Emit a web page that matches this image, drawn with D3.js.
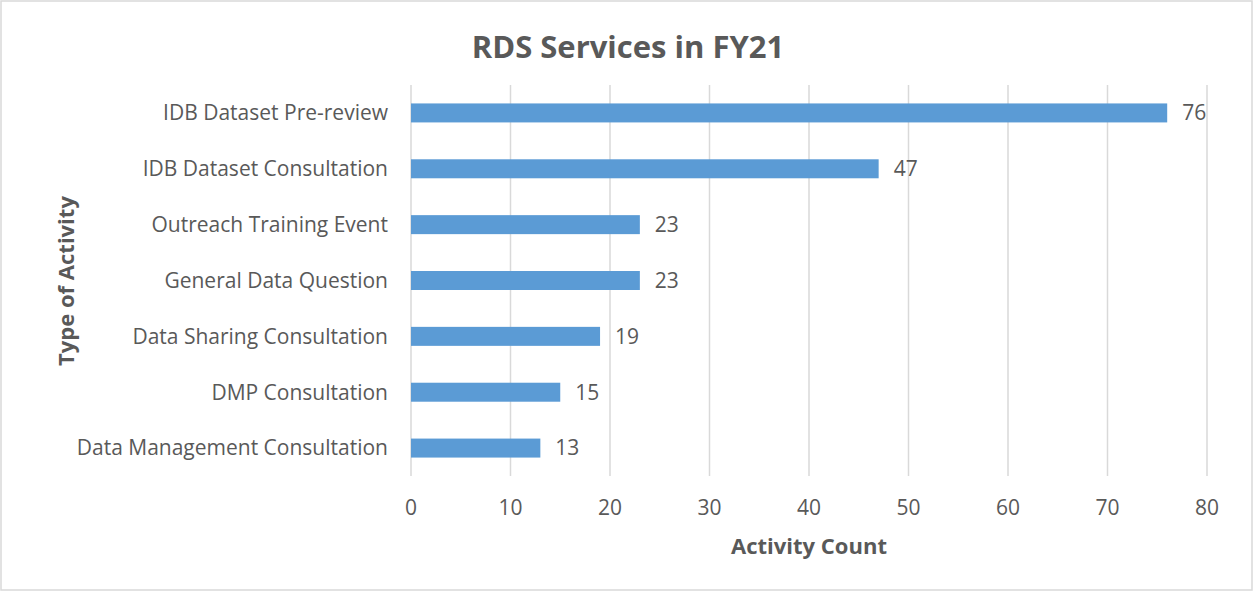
<!DOCTYPE html>
<meta charset="utf-8">
<style>
  body { margin: 0; background: #fff; }
  text { font-family: "Open Sans", Lato, sans-serif; fill: #595959; }
  .grid line { stroke: #d9d9d9; stroke-width: 1.5px; }
</style>
<svg width="1254" height="592"></svg>
<script src="https://d3js.org/d3.v7.min.js"></script>
<script>
  var categories = ["IDB Dataset Pre-review", "IDB Dataset Consultation", "Outreach Training Event",
    "General Data Question", "Data Sharing Consultation", "DMP Consultation", "Data Management Consultation"];
  var counts = [76, 47, 23, 23, 19, 15, 13];
  var xTicks = [0, 10, 20, 30, 40, 50, 60, 70, 80];

  var svg = d3.select("svg");
  var plotLeft = 411, plotRight = 1207, plotTop = 85, plotBottom = 476;

  svg.append("rect")
    .attr("x", 1).attr("y", 1).attr("width", 1251).attr("height", 589)
    .attr("fill", "#fff").attr("stroke", "#d9d9d9").attr("stroke-width", 1.5);

  var x = d3.scaleLinear().domain([0, 80]).range([plotLeft, plotRight]);
  var y = d3.scaleBand().domain(categories).range([plotTop, plotBottom]).paddingInner(0.66).paddingOuter(0.33);

  // vertical gridlines
  svg.append("g").attr("class", "grid")
    .selectAll("line")
    .data(xTicks)
    .enter().append("line")
    .attr("x1", function(d) { return x(d); })
    .attr("x2", function(d) { return x(d); })
    .attr("y1", plotTop)
    .attr("y2", plotBottom);

  svg.append("g")
    .selectAll("rect")
    .data(counts)
    .enter().append("rect")
    .attr("x", x(0))
    .attr("y", function(d, i) { return y(categories[i]); })
    .attr("width", function(d) { return x(d) - x(0); })
    .attr("height", y.bandwidth())
    .attr("fill", "#5b9bd5");

  // value labels
  svg.append("g")
    .selectAll("text")
    .data(counts)
    .enter().append("text")
    .attr("x", function(d) { return x(d) + 15; })
    .attr("y", function(d, i) { return y(categories[i]) + y.bandwidth() / 2; })
    .attr("dy", "0.35em")
    .attr("font-size", 21)
    .text(function(d) { return d; });

  // category labels
  svg.append("g")
    .selectAll("text")
    .data(categories)
    .enter().append("text")
    .attr("x", plotLeft - 23)
    .attr("y", function(d) { return y(d) + y.bandwidth() / 2; })
    .attr("dy", "0.35em")
    .attr("text-anchor", "end")
    .attr("font-size", 21)
    .text(function(d) { return d; });

  // x tick labels
  svg.append("g")
    .selectAll("text")
    .data(xTicks)
    .enter().append("text")
    .attr("x", function(d) { return x(d); })
    .attr("y", 508)
    .attr("dy", "0.35em")
    .attr("text-anchor", "middle")
    .attr("font-size", 21)
    .text(function(d) { return d; });

  svg.append("text")
    .attr("x", 628).attr("y", 47).attr("dy", "0.35em")
    .attr("text-anchor", "middle")
    .attr("font-size", 31).attr("font-weight", "bold")
    .text("RDS Services in FY21");

  svg.append("text")
    .attr("x", 809).attr("y", 546).attr("dy", "0.35em")
    .attr("text-anchor", "middle")
    .attr("font-size", 22).attr("font-weight", "bold")
    .text("Activity Count");

  svg.append("text")
    .attr("transform", "translate(66,281) rotate(-90)")
    .attr("dy", "0.35em")
    .attr("text-anchor", "middle")
    .attr("font-size", 22).attr("font-weight", "bold")
    .text("Type of Activity");
</script>
